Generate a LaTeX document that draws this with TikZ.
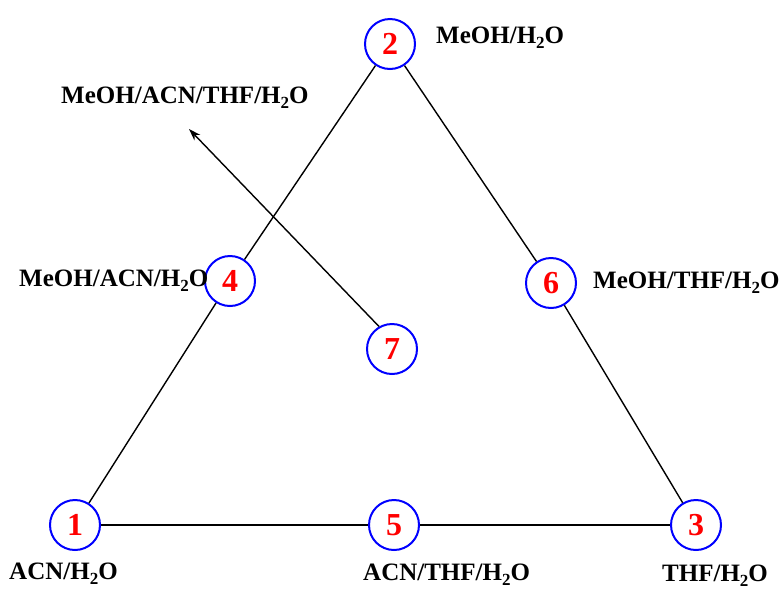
\documentclass[tikz,border=0pt]{standalone}
\usepackage{fontspec}
\setmainfont{Liberation Serif}
\usetikzlibrary{arrows.meta}
\newcommand\chemsub[1]{\raisebox{-0.22em}{\fontsize{17}{17}\selectfont #1}}
\begin{document}
\begin{tikzpicture}[x=1pt,y=-1pt,
  pt/.style={circle,draw=blue,line width=2pt,minimum size=50pt,inner sep=0pt,text=red,font=\bfseries\fontsize{32}{32}\selectfont},
  lbl/.style={anchor=base west,inner sep=0pt,font=\bfseries\fontsize{25}{28}\selectfont},
  edge/.style={line width=1.4pt,draw=black}]
\useasboundingbox (0,0) rectangle (782,590);
\node[pt] (n1) at (75,525) {1};
\node[pt] (n2) at (390,44) {2};
\node[pt] (n3) at (696,525) {3};
\node[pt] (n4) at (230,281) {4};
\node[pt] (n5) at (394,525) {5};
\node[pt] (n6) at (551,283) {6};
\node[pt] (n7) at (392,349) {7};
\coordinate (tip) at (189,129);
\draw[edge] (n1) -- (n4);
\draw[edge] (n4) -- (n2);
\draw[edge] (n2) -- (n6);
\draw[edge] (n6) -- (n3);
\draw[edge] (n1) -- (n5);
\draw[edge] (n5) -- (n3);
\draw[edge,-{Stealth[length=12pt,width=8pt]}] (n7.120) -- (tip);
\node[lbl] (l2) at (436,43) {MeOH/H\chemsub{2}O};
\node[lbl] (l7) at (61,103) {MeOH/ACN/THF/H\chemsub{2}O};
\node[lbl] (l4) at (19,286) {MeOH/ACN/H\chemsub{2}O};
\node[lbl] (l6) at (593,288) {MeOH/THF/H\chemsub{2}O};
\node[lbl] (l1) at (9,579) {ACN/H\chemsub{2}O};
\node[lbl] (l5) at (363,580) {ACN/THF/H\chemsub{2}O};
\node[lbl] (l3) at (662,581) {THF/H\chemsub{2}O};
\end{tikzpicture}
\end{document}
